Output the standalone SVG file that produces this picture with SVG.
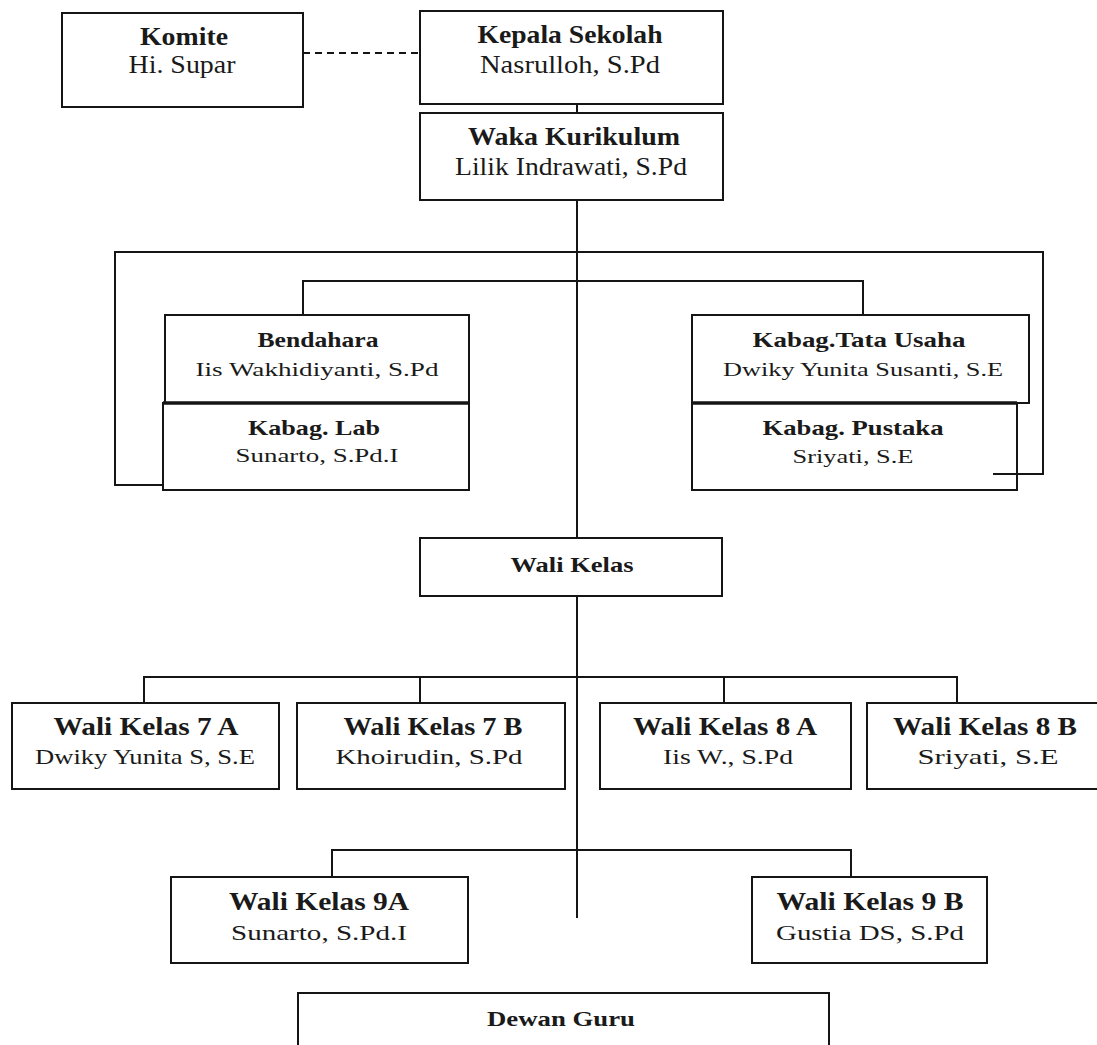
<svg xmlns="http://www.w3.org/2000/svg" width="1097" height="1045" viewBox="0 0 1097 1045">
<style>
.box{fill:#fff;stroke:#151515;stroke-width:2}
.ln{fill:none;stroke:#151515;stroke-width:2}
.t{font-family:"Liberation Serif","Times New Roman",serif;font-weight:bold;fill:#1a1a1a;text-anchor:middle}
.n{font-family:"Liberation Serif","Times New Roman",serif;fill:#1a1a1a;text-anchor:middle}
</style>
<rect width="1097" height="1045" fill="#fff"/>
<g id="connectors">
<path class="ln" d="M303 53H420" stroke-dasharray="7 5"/>
<path class="ln" d="M577 104V113"/>
<path class="ln" d="M577 200V538"/>
<path class="ln" d="M163 485H115V252H1043V474H993"/>
<path class="ln" d="M303 315V281H863V315"/>
<path class="ln" d="M577 596V918"/>
<path class="ln" d="M144 703V677H957V703M420 677V703M724 677V703"/>
<path class="ln" d="M332 877V850H851V877"/>
</g>
<g id="komite"><rect class="box" x="62" y="13" width="241" height="94"/>
<text class="t" x="184" y="45" font-size="25" textLength="88" lengthAdjust="spacingAndGlyphs">Komite</text>
<text class="n" x="182" y="73" font-size="25" textLength="107" lengthAdjust="spacingAndGlyphs">Hi. Supar</text></g>
<g id="kepala"><rect class="box" x="420" y="11" width="303" height="93"/>
<text class="t" x="570" y="43" font-size="26" textLength="185" lengthAdjust="spacingAndGlyphs">Kepala Sekolah</text>
<text class="n" x="570" y="73" font-size="26" textLength="180" lengthAdjust="spacingAndGlyphs">Nasrulloh, S.Pd</text></g>
<g id="waka"><rect class="box" x="420" y="113" width="303" height="87"/>
<text class="t" x="574" y="145" font-size="25" textLength="212" lengthAdjust="spacingAndGlyphs">Waka Kurikulum</text>
<text class="n" x="571" y="175" font-size="26" textLength="232" lengthAdjust="spacingAndGlyphs">Lilik Indrawati, S.Pd</text></g>
<g id="bendahara"><rect class="box" x="165" y="315" width="304" height="88"/>
<text class="t" x="318" y="347" font-size="22" textLength="121" lengthAdjust="spacingAndGlyphs">Bendahara</text>
<text class="n" x="317" y="376" font-size="19" textLength="243" lengthAdjust="spacingAndGlyphs">Iis Wakhidiyanti, S.Pd</text></g>
<g id="lab"><rect class="box" x="163" y="403" width="306" height="87"/>
<path d="M163 403H469" stroke="#151515" stroke-width="3.5"/>
<text class="t" x="314" y="435" font-size="22" textLength="132" lengthAdjust="spacingAndGlyphs">Kabag. Lab</text>
<text class="n" x="317" y="462" font-size="19" textLength="163" lengthAdjust="spacingAndGlyphs">Sunarto, S.Pd.I</text></g>
<g id="tatausaha"><rect class="box" x="692" y="315" width="337" height="88"/>
<text class="t" x="859" y="347" font-size="22" textLength="213" lengthAdjust="spacingAndGlyphs">Kabag.Tata Usaha</text>
<text class="n" x="863" y="376" font-size="19" textLength="280" lengthAdjust="spacingAndGlyphs">Dwiky Yunita Susanti, S.E</text></g>
<g id="pustaka"><rect class="box" x="692" y="403" width="325" height="87"/>
<path d="M692 403H1017" stroke="#151515" stroke-width="3.5"/>
<text class="t" x="853" y="435" font-size="22" textLength="181" lengthAdjust="spacingAndGlyphs">Kabag. Pustaka</text>
<text class="n" x="853" y="463" font-size="19" textLength="121" lengthAdjust="spacingAndGlyphs">Sriyati, S.E</text></g>
<path class="ln" d="M993 474H1017"/>
<g id="walikelas"><rect class="box" x="420" y="538" width="302" height="58"/>
<text class="t" x="572" y="572" font-size="21" textLength="123" lengthAdjust="spacingAndGlyphs">Wali Kelas</text></g>
<g id="wk7a"><rect class="box" x="12" y="703" width="267" height="86"/>
<text class="t" x="146" y="735" font-size="25" textLength="185" lengthAdjust="spacingAndGlyphs">Wali Kelas 7 A</text>
<text class="n" x="145" y="764" font-size="22" textLength="220" lengthAdjust="spacingAndGlyphs">Dwiky Yunita S, S.E</text></g>
<g id="wk7b"><rect class="box" x="297" y="703" width="268" height="86"/>
<text class="t" x="433" y="735" font-size="25" textLength="179" lengthAdjust="spacingAndGlyphs">Wali Kelas 7 B</text>
<text class="n" x="429" y="764" font-size="22" textLength="187" lengthAdjust="spacingAndGlyphs">Khoirudin, S.Pd</text></g>
<g id="wk8a"><rect class="box" x="600" y="703" width="251" height="86"/>
<text class="t" x="725" y="735" font-size="25" textLength="184" lengthAdjust="spacingAndGlyphs">Wali Kelas 8 A</text>
<text class="n" x="728" y="764" font-size="22" textLength="130" lengthAdjust="spacingAndGlyphs">Iis W., S.Pd</text></g>
<g id="wk8b"><rect class="box" x="867" y="703" width="240" height="86"/>
<text class="t" x="985" y="735" font-size="25" textLength="184" lengthAdjust="spacingAndGlyphs">Wali Kelas 8 B</text>
<text class="n" x="988" y="764" font-size="22" textLength="141" lengthAdjust="spacingAndGlyphs">Sriyati, S.E</text></g>
<g id="wk9a"><rect class="box" x="171" y="877" width="297" height="86"/>
<text class="t" x="319" y="910" font-size="25" textLength="180" lengthAdjust="spacingAndGlyphs">Wali Kelas 9A</text>
<text class="n" x="319" y="940" font-size="22" textLength="176" lengthAdjust="spacingAndGlyphs">Sunarto, S.Pd.I</text></g>
<g id="wk9b"><rect class="box" x="752" y="877" width="235" height="86"/>
<text class="t" x="870" y="910" font-size="25" textLength="187" lengthAdjust="spacingAndGlyphs">Wali Kelas 9 B</text>
<text class="n" x="870" y="940" font-size="22" textLength="188" lengthAdjust="spacingAndGlyphs">Gustia DS, S.Pd</text></g>
<g id="dewanguru"><rect class="box" x="298" y="993" width="531" height="70"/>
<text class="t" x="561" y="1026" font-size="22" textLength="148" lengthAdjust="spacingAndGlyphs">Dewan Guru</text></g>
</svg>
